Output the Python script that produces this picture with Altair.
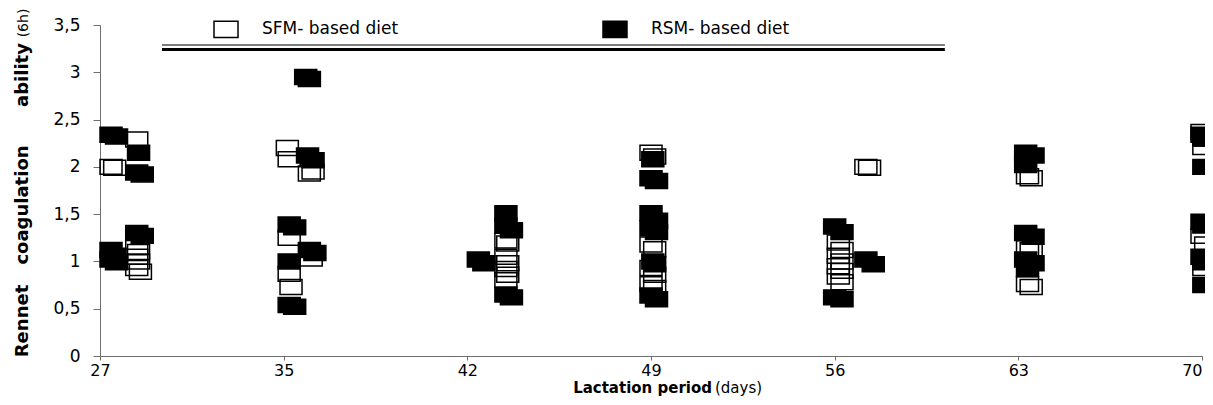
import altair as alt
import pandas as pd

# ---- data ----
week_labels = ["27", "35", "42", "49", "56", "63", "70"]   # x tick labels (days)
series_names = ["SFM- based diet", "RSM- based diet"]

# x = position along the lactation axis in tick units (0 = day 27 ... 6 = day 70)
rsm_x = [0.06, 0.09, 0.21, 0.20, 0.23, 0.06, 0.08, 0.06, 0.09, 0.20, 0.23,
         1.12, 1.14, 1.13, 1.16, 1.03, 1.06, 1.14, 1.17, 1.03, 1.03, 1.06,
         2.21, 2.21, 2.24, 2.06, 2.09, 2.21, 2.24,
         3.01, 3.00, 3.03, 3.00, 3.03, 3.00, 3.03, 3.01, 3.02, 3.00, 3.03,
         4.00, 4.04, 4.00, 4.04, 4.17, 4.21,
         5.04, 5.08, 5.04, 5.04, 5.08, 5.04, 5.08, 5.05,
         6.00, 6.01, 6.01, 6.00, 6.01, 6.00, 6.01, 6.01]
rsm_y = [2.34, 2.32, 2.15, 1.94, 1.92, 1.12, 1.06, 1.02, 0.99, 1.30, 1.27,
         2.95, 2.93, 2.12, 2.07, 1.39, 1.36, 1.12, 1.09, 1.00, 0.54, 0.52,
         1.51, 1.38, 1.33, 1.02, 0.98, 0.65, 0.62,
         2.08, 1.88, 1.85, 1.51, 1.43, 1.35, 1.31, 1.00, 0.97, 0.64, 0.60,
         1.37, 1.31, 0.62, 0.60, 1.02, 0.97,
         2.15, 2.12, 2.02, 1.30, 1.26, 1.02, 0.98, 0.92,
         2.34, 2.30, 2.00, 1.42, 1.38, 1.05, 0.99, 0.75]

sfm_x = [0.06, 0.08, 0.20, 0.20, 0.21, 0.20, 0.21, 0.20, 0.22,
         1.02, 1.03, 1.14, 1.16, 1.03, 1.15, 1.03, 1.04,
         2.21, 2.22, 2.21, 2.22, 2.21, 2.22, 2.21,
         3.00, 3.02, 3.00, 3.02, 3.00, 3.02, 3.00, 3.02,
         4.17, 4.19, 4.02, 4.04, 4.02, 4.04, 4.02, 4.04, 4.02, 4.04,
         5.05, 5.07, 5.05, 5.07, 5.05, 5.07,
         6.00, 6.02, 6.01, 6.00, 6.02, 6.01]
sfm_y = [2.00, 1.99, 2.29, 1.15, 1.10, 1.05, 1.00, 0.93, 0.89,
         2.20, 2.08, 1.93, 1.95, 1.25, 1.03, 0.87, 0.73,
         1.22, 1.19, 1.05, 0.98, 0.92, 0.86, 0.80,
         2.15, 2.11, 1.18, 1.13, 0.93, 0.86, 0.76, 0.72,
         2.00, 1.99, 1.20, 1.12, 1.06, 1.00, 0.95, 0.90, 0.84, 0.78,
         1.90, 1.88, 1.14, 1.12, 0.76, 0.73,
         2.37, 2.30, 2.21, 1.27, 1.18, 0.93]

# decorative double line under the legend (data units)
line_x = [0.3376, 0.3376]
line_x2 = [4.60, 4.60]
line_y = [3.289, 3.241]

# ---- build ----
FONT = "DejaVu Sans"
RECT = "M-1,-0.68H1V0.68H-1Z"

pts = pd.DataFrame({
    "x": rsm_x + sfm_x,
    "y": rsm_y + sfm_y,
    "diet": [series_names[1]] * len(rsm_x) + [series_names[0]] * len(sfm_x),
})

x_scale = alt.Scale(domain=[0, 6], nice=False, zero=False)
y_scale = alt.Scale(domain=[0, 3.5], nice=False, zero=True)

x_label_expr = "[" + ",".join("'" + s + "'" for s in week_labels) + "][datum.value]"

x_axis = alt.Axis(values=list(range(7)), labelExpr=x_label_expr, title=None, grid=False,
                  domainColor="#6e6e6e", tickColor="#6e6e6e", tickSize=4,
                  labelFont=FONT, labelFontSize=16, labelColor="black",
                  labelAlign={"condition": {"test": "datum.value >= 6", "value": "right"},
                              "value": "center"},
                  labelPadding=2, labelFlush=False, labelOverlap=False)
y_axis = alt.Axis(values=[0, 0.5, 1, 1.5, 2, 2.5, 3, 3.5],
                  labelExpr="replace(toString(datum.value), '.', ',')",
                  title=None, grid=False,
                  domainColor="#6e6e6e", tickColor="#6e6e6e", tickSize=7,
                  labelFont=FONT, labelFontSize=17, labelColor="black",
                  labelPadding=13, labelFlush=False, labelOverlap=False)

points = alt.Chart(pts).mark_point(
    shape=RECT, size=484, filled=True, stroke="black", strokeWidth=1.5, opacity=1
).encode(
    x=alt.X("x:Q", scale=x_scale, axis=x_axis),
    y=alt.Y("y:Q", scale=y_scale, axis=y_axis),
    fill=alt.Fill("diet:N",
                  scale=alt.Scale(domain=series_names, range=["transparent", "black"]),
                  sort=series_names,
                  legend=alt.Legend(orient="none", legendX=113, legendY=-9,
                                    direction="horizontal", title=None,
                                    symbolType=RECT, symbolSize=576,
                                    symbolStrokeColor="black", symbolStrokeWidth=1.5,
                                    labelFont=FONT, labelFontSize=17, labelColor="black",
                                    labelOffset=23, columnPadding=201, padding=0,
                                    labelLimit=400)),
)

lines = pd.DataFrame({"x": line_x, "x2": line_x2, "y": line_y, "k": ["thin", "thick"]})
rule_thin = alt.Chart(lines[lines.k == "thin"]).mark_rule(color="#505050", strokeWidth=1.5).encode(
    x=alt.X("x:Q", scale=x_scale, axis=x_axis), x2="x2:Q",
    y=alt.Y("y:Q", scale=y_scale, axis=y_axis))
rule_thick = alt.Chart(lines[lines.k == "thick"]).mark_rule(color="black", strokeWidth=3.2).encode(
    x=alt.X("x:Q", scale=x_scale, axis=x_axis), x2="x2:Q",
    y=alt.Y("y:Q", scale=y_scale, axis=y_axis))


def label(txt, px, py, size=17, bold=False, angle=0, align="center"):
    kw = dict(font=FONT, fontSize=size, fontWeight="bold" if bold else "normal",
              align=align, baseline="alphabetic", color="black")
    if angle:
        kw["angle"] = angle
    return alt.Chart(pd.DataFrame({"t": [txt]})).mark_text(**kw).encode(
        text="t:N", x=alt.value(px), y=alt.value(py))


titles = [
    label("Lactation period", 612, 368, size=15, bold=True, align="right"),
    label(" (days)", 615, 368, size=15, align="left"),
    label("Rennet", -72, 296, size=18, bold=True, angle=270),
    label("coagulation", -72, 180, size=18, bold=True, angle=270),
    label("ability", -72, 50, size=18, bold=True, angle=270),
    label("(6h)", -72, -2, size=14, angle=270),
]

chart = alt.layer(points, rule_thin, rule_thick, *titles).properties(
    width=1102, height=331,
    autosize=alt.AutoSizeParams(type="none"),
    padding={"left": 92, "top": 17, "right": 3, "bottom": 41},
).configure_view(strokeWidth=0)

chart.save("out.html", embed_options={"renderer": "svg", "actions": False})
